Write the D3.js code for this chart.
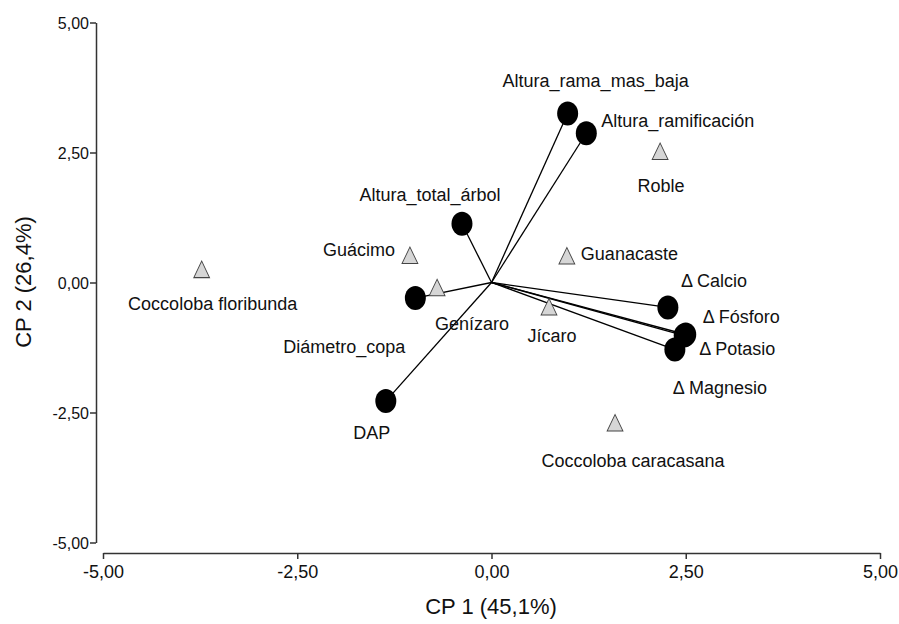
<!DOCTYPE html>
<html>
<head>
<meta charset="utf-8">
<script src="https://cdn.jsdelivr.net/npm/d3@7"></script>
<style>
  body { margin: 0; background: #fff; }
  text { font-family: "Liberation Sans", Arial, sans-serif; fill: #111; }
</style>
</head>
<body>
<svg width="899" height="624"></svg>
<script>
// variables (biplot vectors)
var varNames = ["Altura_rama_mas_baja", "Altura_ramificación", "Altura_total_árbol", "Diámetro_copa", "DAP",
                "\u0394 Calcio", "\u0394 Fósforo", "\u0394 Potasio", "\u0394 Magnesio"];
var varX = [0.98, 1.22, -0.38, -0.98, -1.36, 2.27, 2.50, 2.48, 2.36];
var varY = [3.25, 2.87, 1.13, -0.30, -2.28, -0.48, -1.00, -1.02, -1.29];

// species (observations)
var spNames = ["Roble", "Guanacaste", "Guácimo", "Genízaro", "Jícaro", "Coccoloba floribunda", "Coccoloba caracasana"];
var spX = [2.17, 0.97, -1.05, -0.70, 0.74, -3.73, 1.59];
var spY = [2.47, 0.46, 0.47, -0.15, -0.52, 0.20, -2.75];

var ticks = [-5, -2.5, 0, 2.5, 5];

// label placement (pixels from the mark), kept apart from the data
var varLab = [
  {dx: 28, dy: -27, a: "middle"}, {dx: 15, dy: -6, a: "start"}, {dx: -32, dy: -23, a: "middle"},
  {dx: -71, dy: 55, a: "middle"}, {dx: -14, dy: 38, a: "middle"}, {dx: 13, dy: -20, a: "start"},
  {dx: 17, dy: -12, a: "start"}, {dx: 15, dy: 19, a: "start"}, {dx: -2, dy: 44, a: "start"}
];
var spLab = [
  {dx: 1, dy: 38, a: "middle"}, {dx: 14, dy: 1, a: "start"}, {dx: -15, dy: -2, a: "end"},
  {dx: 35, dy: 40, a: "middle"}, {dx: 3, dy: 32, a: "middle"}, {dx: 11, dy: 38, a: "middle"},
  {dx: 18, dy: 41, a: "middle"}
];

var svg = d3.select("svg");

var x = d3.scaleLinear().domain([-5, 5]).range([103, 880]),
    y = d3.scaleLinear().domain([-5, 5]).range([542.5, 22.5]);

// comma decimals, plain hyphen for negatives
var fmt = function(d) { return d.toFixed(2).replace(".", ","); };

// y axis
var gy = svg.append("g")
    .attr("transform", "translate(96,0)")
    .call(d3.axisLeft(y).tickValues(ticks).tickFormat(fmt).tickSize(6).tickSizeOuter(0));
gy.select(".domain").attr("stroke", "#333").attr("stroke-width", 1.5);
gy.selectAll(".tick line").attr("stroke", "#333").attr("stroke-width", 1.5);
gy.selectAll(".tick text").attr("font-size", 16).attr("x", -7).attr("dy", "0.36em")
  .style("font-family", "Liberation Sans, Arial, sans-serif").style("fill", "#111");

// x axis
var gx = svg.append("g")
    .attr("transform", "translate(0,553)")
    .call(d3.axisBottom(x).tickValues(ticks).tickFormat(fmt).tickSize(6).tickSizeOuter(0));
gx.select(".domain").attr("stroke", "#333").attr("stroke-width", 1.5);
gx.selectAll(".tick line").attr("stroke", "#333").attr("stroke-width", 1.5);
gx.selectAll(".tick text").attr("font-size", 18).attr("y", 12)
  .style("font-family", "Liberation Sans, Arial, sans-serif").style("fill", "#111");

// axis titles
svg.append("text")
    .attr("x", 491).attr("y", 614)
    .attr("text-anchor", "middle").attr("font-size", 22)
    .text("CP 1 (45,1%)");
svg.append("text")
    .attr("transform", "translate(31,282) rotate(-90)")
    .attr("text-anchor", "middle").attr("font-size", 22)
    .text("CP 2 (26,4%)");

var vars = varNames.map(function(n, i) { return {name: n, x: varX[i], y: varY[i], lab: varLab[i]}; });
var sps = spNames.map(function(n, i) { return {name: n, x: spX[i], y: spY[i], lab: spLab[i]}; });

// vectors
svg.append("g").selectAll("line")
  .data(vars).enter().append("line")
    .attr("x1", x(0)).attr("y1", y(0))
    .attr("x2", function(d) { return x(d.x); })
    .attr("y2", function(d) { return y(d.y); })
    .attr("stroke", "#000").attr("stroke-width", 1.3);

// species triangles
var tri = d3.symbol().type(d3.symbolTriangle).size(120);
svg.append("g").selectAll("path")
  .data(sps).enter().append("path")
    .attr("d", tri)
    .attr("transform", function(d) { return "translate(" + x(d.x) + "," + y(d.y) + ") scale(0.95,1.15)"; })
    .attr("fill", "#d6d6d6").attr("stroke", "#444").attr("stroke-width", 0.9);

// variable points
svg.append("g").selectAll("ellipse")
  .data(vars).enter().append("ellipse")
    .attr("cx", function(d) { return x(d.x); })
    .attr("cy", function(d) { return y(d.y); })
    .attr("rx", 10.5).attr("ry", 12)
    .attr("fill", "#000");

// labels
var labels = vars.concat(sps);
svg.append("g").selectAll("text")
  .data(labels).enter().append("text")
    .attr("x", function(d) { return x(d.x) + d.lab.dx; })
    .attr("y", function(d) { return y(d.y) + d.lab.dy; })
    .attr("text-anchor", function(d) { return d.lab.a; })
    .attr("font-size", 18)
    .text(function(d) { return d.name; });
</script>
</body>
</html>
